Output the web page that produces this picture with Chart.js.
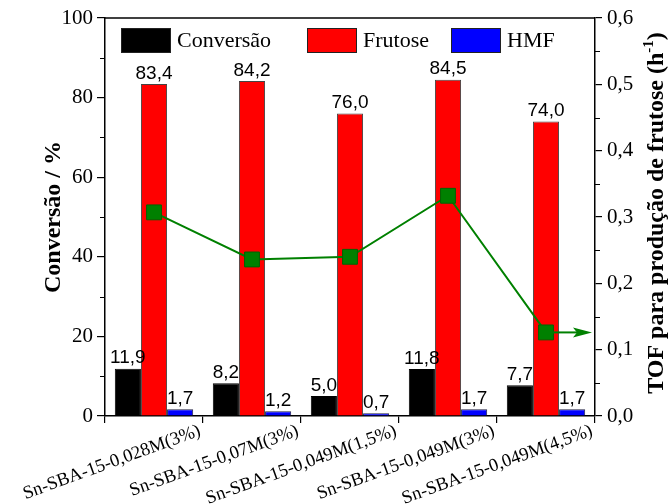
<!DOCTYPE html>
<html><head><meta charset="utf-8">
<script src="https://cdn.jsdelivr.net/npm/chart.js@4.4.1/dist/chart.umd.min.js"></script>
<style>html,body{margin:0;padding:0;background:#fff}#wrap{width:670px;height:504px}</style>
</head><body><div id="wrap"><canvas id="c" width="670" height="504"></canvas></div>
<script>
const categories = ['Sn-SBA-15-0,028M(3%)', 'Sn-SBA-15-0,07M(3%)', 'Sn-SBA-15-0,049M(1,5%)', 'Sn-SBA-15-0,049M(3%)', 'Sn-SBA-15-0,049M(4,5%)'];
const conversao = [11.9, 8.2, 5.0, 11.8, 7.7];
const frutose = [83.4, 84.2, 76.0, 84.5, 74.0];
const hmf = [1.7, 1.2, 0.7, 1.7, 1.7];
const tof = [0.307, 0.236, 0.240, 0.332, 0.126];
const leftTickValues = [0, 20, 40, 60, 80, 100];
const rightTickLabels = ['0,0', '0,1', '0,2', '0,3', '0,4', '0,5', '0,6'];
const seriesNames = ['Conversão', 'Frutose', 'HMF'];

const SERIF = "'Liberation Serif','Times New Roman',serif";
const SANS = "'Liberation Sans',Arial,sans-serif";
const fmt = v => v.toFixed(1).replace('.', ',');

const decoPlugin = {
  id: 'deco',
  afterDatasetsDraw(chart) {
    const {ctx, chartArea: a} = chart;
    ctx.save();
    ctx.fillStyle = '#000';
    ctx.font = '19px ' + SANS;
    ctx.textAlign = 'center';
    ctx.textBaseline = 'bottom';
    [0, 1, 2].forEach(di => {
      const meta = chart.getDatasetMeta(di);
      meta.data.forEach((el, i) => {
        ctx.fillText(fmt(chart.data.datasets[di].data[i]), el.x, el.y - 1);
      });
    });
    const lm = chart.getDatasetMeta(3);
    const last = lm.data[lm.data.length - 1];
    const tipX = a.right - 3;
    ctx.strokeStyle = '#008000';
    ctx.fillStyle = '#008000';
    ctx.lineWidth = 2;
    ctx.beginPath();
    ctx.moveTo(last.x + 7, last.y);
    ctx.lineTo(tipX - 14, last.y);
    ctx.stroke();
    ctx.beginPath();
    ctx.moveTo(tipX, last.y);
    ctx.lineTo(tipX - 19, last.y - 5);
    ctx.lineTo(tipX - 15, last.y);
    ctx.lineTo(tipX - 19, last.y + 5);
    ctx.closePath();
    ctx.fill();
    ctx.restore();
  },
  afterDraw(chart) {
    const {ctx, chartArea: a, scales} = chart;
    ctx.save();
    ctx.strokeStyle = '#000';
    ctx.lineWidth = 1.5;
    ctx.beginPath();
    ctx.moveTo(a.left, a.top);
    ctx.lineTo(a.right, a.top);
    ctx.stroke();
    ctx.lineWidth = 1.2;
    ctx.beginPath();
    for (let v = 10; v < 100; v += 20) {
      const p = Math.round(scales.y.getPixelForValue(v)) + 0.5;
      ctx.moveTo(a.left - 5, p); ctx.lineTo(a.left, p);
    }
    for (let k = 0; k < 6; k++) {
      const p = Math.round(scales.y1.getPixelForValue(0.05 + k * 0.1)) + 0.5;
      ctx.moveTo(a.right, p); ctx.lineTo(a.right + 5, p);
    }
    ctx.stroke();
    const offs = [16, 202, 346];
    ctx.font = '22px ' + SERIF;
    ctx.textBaseline = 'middle';
    ctx.textAlign = 'left';
    [0, 1, 2].forEach(di => {
      const ds = chart.data.datasets[di];
      const x = a.left + offs[di];
      const y = a.top + 10;
      ctx.fillStyle = ds.backgroundColor;
      ctx.fillRect(x, y, 50, 25);
      ctx.strokeStyle = '#222';
      ctx.lineWidth = 1;
      ctx.strokeRect(x + 0.5, y + 0.5, 49, 24);
      ctx.fillStyle = '#000';
      ctx.fillText(ds.label, x + 56, y + 13);
    });
    ctx.save();
    ctx.translate(657, (a.top + a.bottom) / 2 - 4);
    ctx.rotate(-Math.PI / 2);
    ctx.fillStyle = '#000';
    ctx.textBaseline = 'middle';
    const mainFont = 'bold 24px ' + SERIF;
    const supFont = 'bold 15px ' + SERIF;
    const t1 = 'TOF para produção de frutose (h', t2 = '-1', t3 = ')';
    ctx.font = mainFont; const w1 = ctx.measureText(t1).width, w3 = ctx.measureText(t3).width;
    ctx.font = supFont; const w2 = ctx.measureText(t2).width;
    let x0 = -(w1 + w2 + w3) / 2;
    ctx.font = mainFont; ctx.fillText(t1, x0, 0);
    ctx.font = supFont; ctx.fillText(t2, x0 + w1, -8);
    ctx.font = mainFont; ctx.fillText(t3, x0 + w1 + w2, 0);
    ctx.restore();
    ctx.restore();
  }
};

new Chart(document.getElementById('c'), {
  data: {
    labels: categories,
    datasets: [
      {type: 'bar', label: seriesNames[0], data: conversao, backgroundColor: '#000000', borderColor: '#000000', borderWidth: 1, yAxisID: 'y', order: 1},
      {type: 'bar', label: seriesNames[1], data: frutose, backgroundColor: '#ff0000', borderColor: '#444444', borderWidth: 1, yAxisID: 'y', order: 1},
      {type: 'bar', label: seriesNames[2], data: hmf, backgroundColor: '#0000ff', borderColor: '#222244', borderWidth: 1, yAxisID: 'y', order: 1},
      {type: 'line', label: 'TOF', data: tof, yAxisID: 'y1', order: 0, borderColor: '#008000', borderWidth: 2,
       pointStyle: 'rect', pointRadius: 10.5, pointBackgroundColor: '#008000', pointBorderColor: '#006400', pointBorderWidth: 1, tension: 0}
    ]
  },
  options: {
    responsive: false,
    animation: false,
    devicePixelRatio: 1,
    layout: {padding: {top: 18, left: 0, right: 0, bottom: 0}},
    datasets: {bar: {categoryPercentage: 0.8, barPercentage: 1.0}},
    plugins: {legend: {display: false}, tooltip: {enabled: false}},
    scales: {
      x: {
        offset: true,
        grid: {display: true, drawOnChartArea: false, tickLength: 7, color: '#000', lineWidth: 1.2},
        border: {display: true, color: '#000', width: 1.5},
        ticks: {color: '#000', font: {family: SERIF, size: 18.5}, minRotation: 20, maxRotation: 20, autoSkip: false, labelOffset: 46, padding: -3},
        afterFit(s) { s.height = 88; s.paddingLeft = 0; s.paddingRight = 0; }
      },
      y: {
        position: 'left', min: 0, max: 100,
        afterBuildTicks(s) { s.ticks = leftTickValues.map(v => ({value: v})); },
        grid: {display: true, drawOnChartArea: false, tickLength: 8, color: '#000', lineWidth: 1.2},
        border: {display: true, color: '#000', width: 1.5},
        ticks: {color: '#000', font: {family: SERIF, size: 21}, padding: 4},
        title: {display: true, text: 'Conversão / %', color: '#000', font: {family: SERIF, size: 24, weight: 'bold', lineHeight: 1}, padding: {top: 42, bottom: 0}},
        afterFit(s) { s.width = 105; }
      },
      y1: {
        position: 'right', min: 0, max: 0.6,
        afterBuildTicks(s) { s.ticks = rightTickLabels.map((t, i) => ({value: i * 0.1})); },
        grid: {display: true, drawOnChartArea: false, tickLength: 7, color: '#000', lineWidth: 1.2},
        border: {display: true, color: '#000', width: 1.5},
        ticks: {color: '#000', font: {family: SERIF, size: 21}, padding: 5, callback: (v, i) => rightTickLabels[i]},
        afterFit(s) { s.width = 75; }
      }
    }
  },
  plugins: [decoPlugin]
});
</script>
</body></html>
